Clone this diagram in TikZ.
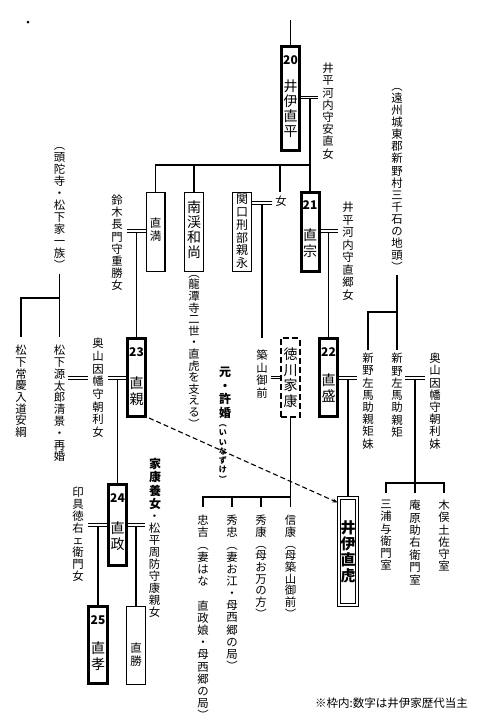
\documentclass[tikz,border=0pt]{standalone}
\usepackage{fontspec}
\setmainfont{Noto Sans CJK JP}
\usetikzlibrary{arrows.meta}
\ExplSyntaxOn
\NewDocumentCommand\vchars{mm}{
  \skip_set:Nn \baselineskip {#1}
  \tl_map_inline:nn {#2} { \hbox_to_wd:nn {1.05em} { \hss ##1 \hss } }
}
\ExplSyntaxOff
\newcommand\vt[3][11.4]{\vbox{\fontsize{#1}{#2}\selectfont\lineskiplimit=-100pt\lineskip=0pt\relax\vchars{#2}{#3}}}
\begin{document}
\begin{tikzpicture}[x=1pt,y=-1pt,
  ln/.style={line width=1.1pt},
  dbl/.style={double, double distance=1.3pt, line width=0.9pt},
  hbx/.style={draw, line width=3pt, inner sep=0pt, minimum width=18pt},
  tbx/.style={draw, line width=1.2pt, inner sep=0pt, minimum width=18.8pt},
  vtx/.style={inner sep=0pt, anchor=north},
  num/.style={inner sep=0pt, anchor=north, font=\fontsize{12}{12}\selectfont\bfseries}]
\fill[white] (0,0) rectangle (480,726);
\useasboundingbox (0,0) rectangle (480,726);
\fill (28,22) circle (1.5pt);

% ---- heads (thick boxes)
\node[hbx, minimum height=104pt] (n20) at (290.5,98.5) {};
\node[num] (n20n) at (290.5,55) {20};
\node[vtx] (n20t) at (290.5,80) {\vt[14]{15pt}{井伊直平}};

\node[hbx, minimum height=79pt] (n21) at (310,232) {};
\node[num] (n21n) at (310,200) {21};
\node[vtx] (n21t) at (310,228) {\vt[14]{16pt}{直宗}};

\node[hbx, minimum height=78pt] (n22) at (328.5,377.5) {};
\node[num] (n22n) at (328.5,347) {22};
\node[vtx] (n22t) at (328.5,373) {\vt[14]{16pt}{直盛}};

\node[hbx, minimum height=78pt] (n23) at (136.5,377.5) {};
\node[num] (n23n) at (136.5,347) {23};
\node[vtx] (n23t) at (136.5,376) {\vt[14]{16pt}{直親}};

\node[hbx, minimum height=81pt] (n24) at (117.5,525) {};
\node[num] (n24n) at (117.5,493) {24};
\node[vtx] (n24t) at (117.5,521) {\vt[14]{16.5pt}{直政}};

\node[hbx, minimum height=77pt, minimum width=19pt] (n25) at (98,645) {};
\node[num] (n25n) at (98,615) {25};
\node[vtx] (n25t) at (98,641) {\vt[14]{16pt}{直孝}};

% ---- thin boxes
\node[tbx, minimum height=79pt] (nmitsu) at (155.5,232) {};
\node[vtx] (nmitsut) at (155.5,218) {\vt[11.5]{12.5pt}{直満}};
\node[tbx, minimum height=79pt] (nnankei) at (194,232) {};
\node[vtx] (nnankeit) at (194,201) {\vt[14]{15pt}{南渓和尚}};
\node[tbx, minimum height=79pt] (nseki) at (242,232) {};
\node[vtx] (nsekit) at (242,194) {\vt[12]{12.8pt}{関口刑部親永}};
\node[tbx, minimum height=78pt] (nkatsu) at (136,645.5) {};
\node[vtx] (nkatsut) at (136,643) {\vt[11.5]{12.5pt}{直勝}};

% ---- special boxes
\node[draw, line width=2.2pt, dash pattern=on 6pt off 3pt, minimum width=18.5pt, minimum height=79pt, inner sep=0pt] (ieyasu) at (290.5,377.5) {};
\node[vtx] (ieyasut) at (290.5,348) {\vt[14]{15.5pt}{徳川家康}};
\node[draw, double, double distance=1.6pt, line width=1.1pt, minimum width=18pt, minimum height=107pt, inner sep=0pt] (naotora) at (348,551.5) {};
\node[vtx] (naotorat) at (348,520) {\vbox{\fontsize{15}{16}\selectfont\bfseries\lineskiplimit=-100pt\lineskip=0pt\vchars{16pt}{井伊直虎}}};

% ---- annotation texts
\node[vtx] (tyasu) at (328,63) {\vt{12.2pt}{井平河内守安直女}};
\node[vtx] (tensyu) at (397,88) {\vt{12.1pt}{︵遠州城東郡新野村三千石の地頭︶}};
\node[vtx] (tzuda) at (59.5,147) {\vt{12pt}{︵頭陀寺・松下家一族︶}};
\node[vtx] (tsuzu) at (117,195) {\vt{12.1pt}{鈴木長門守重勝女}};
\node[vtx] (tonna) at (281,196) {\vt{12pt}{女}};
\node[vtx] (tsato) at (348,202) {\vt{12.5pt}{井平河内守直郷女}};
\node[vtx] (tryo) at (194,275) {\vt{11.6pt}{︵龍潭寺二世・直虎を支える︶}};
\node[vtx] (tjokei) at (21,345) {\vt{11.7pt}{松下常慶入道安綱}};
\node[vtx] (tgen) at (59.5,345) {\vt{11.8pt}{松下源太郎清景・再婚}};
\node[vtx] (tokul) at (98,338) {\vt{12.7pt}{奥山因幡守朝利女}};
\node[vtx] (ttsuki) at (262,350) {\vt{12.5pt}{築山御前}};
\node[vtx] (tmoto) at (225,367) {\vbox{\fontsize{12}{14}\selectfont\bfseries\lineskiplimit=-100pt\lineskip=0pt\relax\vchars{13.5pt}{元・許婚}\fontsize{8}{9}\selectfont\vchars{9.3pt}{︵いいなずけ︶}}};
\node[vtx] (tniino1) at (368,353) {\vt{12.2pt}{新野左馬助親矩妹}};
\node[vtx] (tniino2) at (397,353) {\vt{12.3pt}{新野左馬助親矩}};
\node[vtx] (tokur) at (435,353) {\vt{12.2pt}{奥山因幡守朝利妹}};
\node[vtx] (tyojo) at (155,458) {\vbox{\fontsize{12}{13}\selectfont\bfseries\lineskiplimit=-100pt\lineskip=0pt\relax\vchars{13.5pt}{家康養女}\mdseries\fontsize{11.4}{12}\selectfont\vchars{12pt}{・松平周防守康親女}}};
\node[vtx] (tinu) at (78,487) {\vt{12pt}{印具徳右ェ衛門女}};
\node[vtx] (ctada) at (203,515) {\vt{12.2pt}{忠吉︵妻はな　直政娘・母西郷の局︶}};
\node[vtx] (chide) at (232,515) {\vt{12.15pt}{秀忠︵妻お江・母西郷の局︶}};
\node[vtx] (chiya) at (261,515) {\vt{11.7pt}{秀康︵母お万の方︶}};
\node[vtx] (cnobu) at (290.5,515) {\vt{11.7pt}{信康︵母築山御前︶}};
\node[vtx] (tmiura) at (386,500) {\vt{12.2pt}{三浦与衛門室}};
\node[vtx] (tihara) at (415,500) {\vt{12.4pt}{庵原助右衛門室}};
\node[vtx] (tkimata) at (444,500) {\vt{12.2pt}{木俣土佐守室}};
\node[anchor=west, inner sep=0pt, font=\fontsize{11.5}{12}\selectfont] (note) at (315,703) {※枠内:数字は井伊家歴代当主};

% ---- connectors
\coordinate (top) at (290.5,20);
\draw[ln] (top) -- (n20.north);

\coordinate (w20) at (318,97.5);
\draw[dbl] (n20.east |- w20) -- (w20);
\coordinate (d20) at (310,98.6);
\coordinate (bar20) at (310,165);
\draw[ln] (d20) -- (bar20) -- (n21.north);
\draw[ln] (bar20) -| (nmitsu.north);
\draw[ln] (bar20 -| nnankei.north) -- (nnankei.north);
\draw[ln] (bar20 -| 280,0) -- ([yshift=4pt,xshift=-1pt]tonna.north);

\coordinate (wseki) at (272,203);
\draw[dbl] (nseki.east |- wseki) -- (wseki);
\coordinate (dseki) at (262,204.1);
\draw[ln] (dseki) -- ([yshift=12pt]ttsuki.north);
\draw[dbl] ([xshift=3pt]ttsuki.east |- ieyasu.west) -- (ieyasu.west);

\coordinate (barie) at (290.5,497);
\draw[ln] (ieyasu.south) -- (barie) -- ([yshift=8pt]cnobu.north);
\draw[ln] (barie) -| ([yshift=8pt]ctada.north);
\draw[ln] (barie -| chide.north) -- ([yshift=8pt]chide.north);
\draw[ln] (barie -| chiya.north) -- ([yshift=8pt]chiya.north);

\coordinate (w21) at (338,231);
\draw[dbl] (n21.east |- w21) -- (w21);
\coordinate (d21) at (328.5,232.1);
\draw[ln] (d21) -- (n22.north);

\coordinate (w22) at (357,378);
\draw[dbl] (n22.east |- w22) -- (w22);
\coordinate (d22) at (348,379.1);
\draw[ln] (d22) -- (naotora.north);

\draw[ln, dash pattern=on 5pt off 3pt, -{Stealth[length=5pt,width=4pt]}] ([xshift=2pt]n23.south east) -- ([yshift=-5pt,xshift=-1pt]naotora.north west);

\coordinate (bn) at (397,312);
\draw[ln] ([yshift=-3pt]tensyu.south) -- ([yshift=3pt]tniino2.north);
\draw[ln] (bn) -| ([yshift=3pt]tniino1.north);
\coordinate (wn0) at (405,378);
\coordinate (wn1) at (425,378);
\draw[dbl] (wn0) -- (wn1);
\coordinate (dn) at (415,379.1);
\coordinate (bn2) at (415,483);
\draw[ln] (dn) -- (bn2) -- ([yshift=7pt]tihara.north);
\draw[ln] ([yshift=7pt]tmiura.north) |- (bn2) -| ([yshift=7pt]tkimata.north);

\coordinate (bz) at (59.5,298);
\draw[ln] ([yshift=-4pt]tzuda.south) -- ([yshift=8pt]tgen.north);
\draw[ln] (bz) -| ([yshift=8pt]tjokei.north);

\coordinate (wm0) at (127,231);
\draw[dbl] (wm0) -- (nmitsu.west |- wm0);
\coordinate (dm) at (136.5,232.1);
\draw[ln] (dm) -- (n23.north);

\coordinate (w23) at (108,378);
\draw[dbl] (w23) -- (n23.west |- w23);
\coordinate (d23) at (117.5,379.1);
\draw[ln] (d23) -- (n24.north);

\coordinate (wg0) at (68,378);
\coordinate (wg1) at (88,378);
\draw[dbl] (wg0) -- (wg1);

\coordinate (w24l) at (88,525);
\draw[dbl] (w24l) -- (n24.west |- w24l);
\coordinate (d24l) at (98,526.1);
\draw[ln] (d24l) -- (n25.north);
\coordinate (w24r) at (145,525);
\draw[dbl] (n24.east |- w24r) -- (w24r);
\coordinate (d24r) at (136,526.1);
\draw[ln] (d24r) -- (nkatsu.north);
\end{tikzpicture}
\end{document}
